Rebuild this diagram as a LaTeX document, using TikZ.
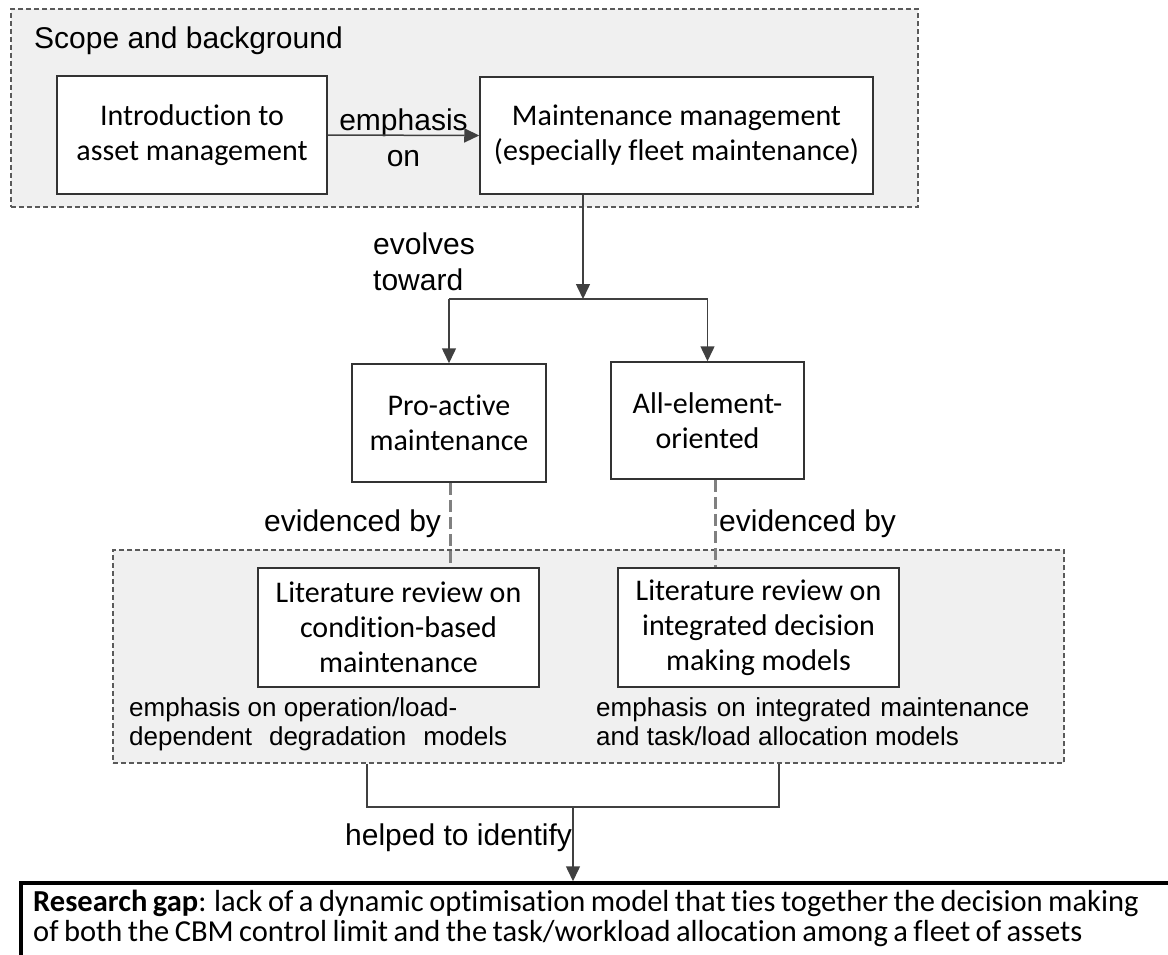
\documentclass[tikz,border=0pt]{standalone}
\usepackage{fontspec}
\setmainfont{Carlito}[Ligatures=NoCommon]
\newfontfamily\labelfont{Liberation Sans}
\usetikzlibrary{arrows.meta}
\definecolor{boxgray}{HTML}{333333}
\definecolor{linegray}{HTML}{404040}
\definecolor{grpgray}{HTML}{5A5A5A}
\definecolor{grpfill}{HTML}{F0F0F0}
\definecolor{evidgray}{HTML}{808080}
\newcommand{\gapfont}{\fontsize{30.5}{31}\selectfont\spaceskip=5.5pt\relax}
\tikzset{
  box/.style={draw=boxgray, line width=1.5pt, fill=white, align=center, inner sep=0pt,
    font=\fontsize{30}{35}\selectfont},
  grp/.style={draw=grpgray, fill=grpfill, dash pattern=on 5pt off 3pt, line width=1.3pt, inner sep=0pt},
  lbl/.style={font=\labelfont\fontsize{30}{36}\selectfont, inner sep=0pt, anchor=base west},
  note/.style={font=\labelfont\fontsize{26}{30}\selectfont, inner sep=0pt, anchor=base west},
  gaptxt/.style={font=\gapfont, inner sep=0pt, anchor=base west},
  arr/.style={draw=linegray, line width=1.5pt, -{Triangle[length=15pt,width=14pt]}},
  con/.style={draw=linegray, line width=1.5pt},
  evid/.style={draw=evidgray, line width=3pt, dash pattern=on 12pt off 5pt}
}
\begin{document}
\begin{tikzpicture}[x=1pt,y=-1pt]
\useasboundingbox (0,0) rectangle (1168,955);

% group frames
\node[grp, minimum width=907pt, minimum height=198pt] (scope) at (464.5,108) {};
\node[grp, minimum width=951pt, minimum height=213pt] (review) at (588.5,656.5) {};
\node[lbl] (scopetitle) at (34,49) {Scope and background};

% boxes
\node[box, minimum width=270pt, minimum height=118pt] (intro) at (192,135)
  {Introduction to\\asset management};
\node[box, minimum width=393pt, minimum height=117pt] (maint) at (676.5,135.5)
  {Maintenance management\\(especially fleet maintenance)};
\node[box, minimum width=194pt, minimum height=118pt] (pro) at (449,423)
  {Pro-active\\maintenance};
\node[box, minimum width=193pt, minimum height=117pt] (all) at (707.5,420.5)
  {All-element-\\oriented};
\node[box, minimum width=281pt, minimum height=119pt] (lit1) at (398.5,627.5)
  {Literature review on\\condition-based\\maintenance};
\node[box, minimum width=281pt, minimum height=119pt] (lit2) at (758.5,627.5)
  {Literature review on\\integrated decision\\making models};

% research gap box (runs past the page edge)
\node[draw=black, line width=3.5pt, inner sep=0pt, minimum width=1200pt, minimum height=120pt] (gap) at (621,943) {};
\node[gaptxt] (gap1) at (33,911) {\textbf{Research gap}: lack of a dynamic optimisation model that ties together the decision making};
\node[gaptxt] (gap2) at (33,941) {of both the CBM control limit and the task/workload allocation among a fleet of assets};

% labels
\node[lbl, anchor=base] (emph1) at (403.5,130.7) {emphasis};
\node[lbl, anchor=base] (emph2) at (403.5,166.7) {on};
\node[lbl] (evo1) at (373,254) {evolves};
\node[lbl] (evo2) at (373,290) {toward};
\node[lbl] (evidL) at (264,531) {evidenced by};
\node[lbl] (evidR) at (719,531) {evidenced by};
\node[lbl] (helped) at (345,845) {helped to identify};

\node[note] (noteL1) at (129,716) {emphasis on operation/load-};
\node[note] (noteL2) at (129,745) {\spaceskip=17pt\relax dependent degradation models};
\node[note] (noteR1) at (596,716) {\spaceskip=9.5pt\relax emphasis on integrated maintenance};
\node[note] (noteR2) at (596,745) {and task/load allocation models};

% connectors
\draw[arr] (intro.east) -- (maint.west);

\coordinate (split) at (583,299);
\draw[arr] (maint.south -| split) -- (split);
\draw[con] (split -| pro) -- (split -| all);
\draw[arr] (split -| pro) -- (pro.north);
\draw[arr] (split -| all) -- (all.north);

\draw[evid] ([xshift=1pt]pro.south) -- ([xshift=1pt]pro.south |- lit1.north);
\draw[evid] ([xshift=7.5pt]all.south) -- ([xshift=7.5pt]all.south |- lit2.north);

\coordinate (bl) at (367,807);
\coordinate (br) at (779,807);
\coordinate (join) at (573,807);
\draw[con] (review.south -| bl) -- (bl) -- (br) -- (review.south -| br);
\draw[arr] (join) -- (join |- gap.north);
\end{tikzpicture}
\end{document}
